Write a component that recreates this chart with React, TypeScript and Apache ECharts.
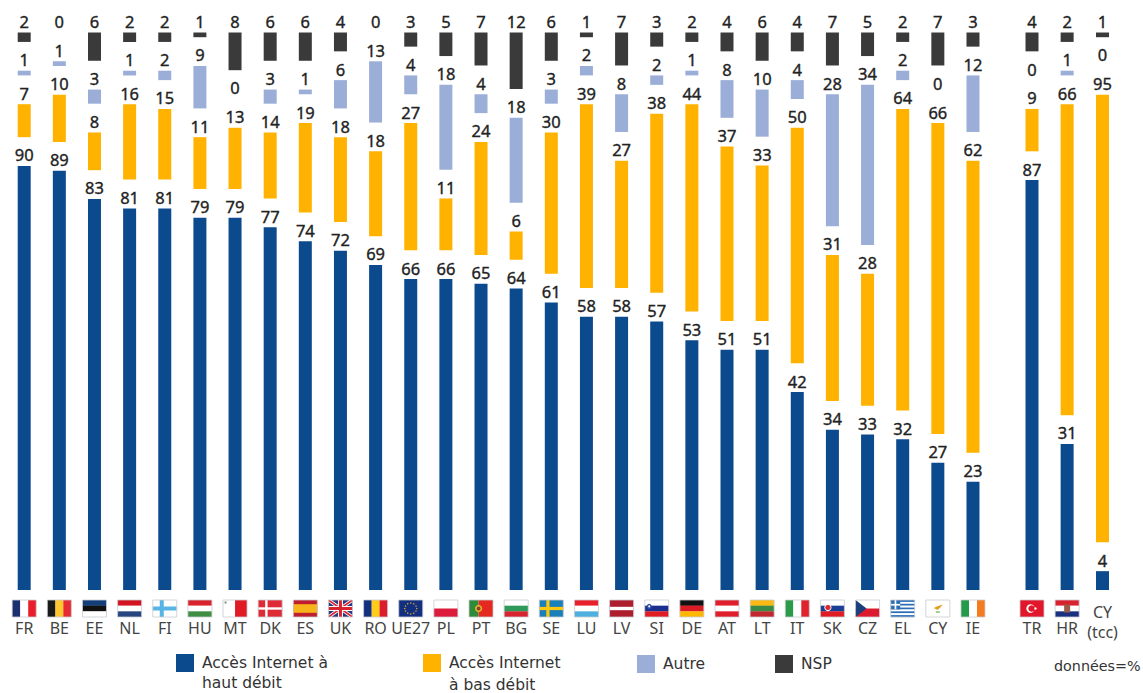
import React, { useEffect, useRef } from "react";
import * as echarts from "echarts";

const categories = ["FR","BE","EE","NL","FI","HU","MT","DK","ES","UK","RO","UE27","PL","PT","BG","SE","LU","LV","SI","DE","AT","LT","IT","SK","CZ","EL","CY","IE","TR","HR","CY\n(tcc)"];
const hautDebit = [90,89,83,81,81,79,79,77,74,72,69,66,66,65,64,61,58,58,57,53,51,51,42,34,33,32,27,23,87,31,4];
const basDebit = [7,10,8,16,15,11,13,14,19,18,18,27,11,24,6,30,39,27,38,44,37,33,50,31,28,64,66,62,9,66,95];
const autre = [1,1,3,1,2,9,0,3,1,6,13,4,18,4,18,3,2,8,2,1,8,10,4,28,34,2,0,12,0,1,0];
const nsp = [2,0,6,2,2,1,8,6,6,4,0,3,5,7,12,6,1,7,3,2,4,6,4,7,5,2,7,3,4,2,1];

const NAME_HIGH = "Accès Internet à\nhaut débit";
const NAME_LOW = "Accès Internet\nà bas débit";
const NAME_OTHER = "Autre";
const NAME_NSP = "NSP";
const COLORS = { high: "#0C4A8E", low: "#FFB200", other: "#9BAED8", nsp: "#3A3A3A" };
const FONT = "'DejaVu Sans', sans-serif";
const FONT_N = "'Noto Sans', sans-serif";

const GAP_UNITS = 6.11;
const Y_MAX = 100 + 3 * GAP_UNITS;
const STEP = 35.14;
const groups = [
  { from: 0, to: 28, centre: 24.2 },
  { from: 28, to: 30, centre: 1032 },
  { from: 30, to: 31, centre: 1102.5 },
];

const W = 24, H = 17;
type Shape = any;
const rect = (x: number, y: number, width: number, height: number, fill: string): Shape => ({ type: "rect", shape: { x, y, width, height }, style: { fill } });
const poly = (points: number[][], fill: string): Shape => ({ type: "polygon", shape: { points }, style: { fill } });
const circ = (cx: number, cy: number, r: number, fill: string): Shape => ({ type: "circle", shape: { cx, cy, r }, style: { fill } });
const hs = (...c: string[]) => c.map((f, i) => rect(0, (i * H) / c.length, W, H / c.length + (i < c.length - 1 ? 0.2 : 0), f));
const vs = (...c: string[]) => c.map((f, i) => rect((i * W) / c.length, 0, W / c.length + (i < c.length - 1 ? 0.2 : 0), H, f));
const cross = (bg: string, fg: string, t = 3) => [rect(0, 0, W, H, bg), rect(7, 0, t, H, fg), rect(0, (H - t) / 2, W, t, fg)];
const euStars = () => {
  const out: Shape[] = [rect(0, 0, W, H, "#12307F")];
  [[12,3],[15,3.8],[17.2,6],[18,8.5],[17.2,11],[15,13.2],[12,14],[9,13.2],[6.8,11],[6,8.5],[6.8,6],[9,3.8]].forEach(([x, y]) => out.push(circ(x, y, 0.7, "#E8B52A")));
  return out;
};
const greek = () => {
  const out: Shape[] = [];
  for (let i = 0; i < 9; i++) out.push(rect(0, (i * H) / 9, W, H / 9 + 0.1, i % 2 ? "#FFFFFF" : "#2A6DB5"));
  out.push(rect(0, 0, 9.5, 9.4, "#2A6DB5"), rect(3.9, 0, 1.7, 9.4, "#FFFFFF"), rect(0, 3.9, 9.5, 1.7, "#FFFFFF"));
  return out;
};
const flags: Record<string, Shape[]> = {
  FR: vs("#1B2F70", "#FFFFFF", "#E81E2B"),
  BE: vs("#1A1A1A", "#FDC82F", "#E62B33"),
  EE: hs("#123F7A", "#111111", "#FFFFFF"),
  NL: hs("#D3131F", "#FFFFFF", "#27457F"),
  FI: cross("#FFFFFF", "#58B4E4", 4),
  HU: hs("#D8232F", "#FFFFFF", "#3E8E43"),
  MT: [...vs("#FFFFFF", "#E01B24"), rect(1.5, 1.5, 2, 2, "#888888")],
  DK: cross("#DE2B36", "#FFFFFF", 2.4),
  ES: [rect(0, 0, W, H, "#BE1E2D"), rect(0, 4.2, W, 8.6, "#F8B51B")],
  UK: [rect(0, 0, W, H, "#26387E"),
    poly([[0,0],[3,0],[24,15],[24,17],[21,17],[0,2]], "#FFFFFF"), poly([[24,0],[21,0],[0,15],[0,17],[3,17],[24,2]], "#FFFFFF"),
    poly([[0,0],[1.5,0],[24,16],[24,17],[22.5,17],[0,1]], "#D8232F"), poly([[24,0],[22.5,0],[0,16],[0,17],[1.5,17],[24,1]], "#D8232F"),
    rect(9.5, 0, 5, H, "#FFFFFF"), rect(0, 6, W, 5, "#FFFFFF"), rect(10.5, 0, 3, H, "#D8232F"), rect(0, 7, W, 3, "#D8232F")],
  RO: vs("#13307F", "#FFCC1B", "#DC1C2A"),
  UE27: euStars(),
  PL: hs("#FFFFFF", "#DC1C3A"),
  PT: [rect(0, 0, 9.6, H, "#2F8A3A"), rect(9.6, 0, 14.4, H, "#E42A20"), circ(9.6, 8.5, 3.6, "#E8B52A"), circ(9.6, 8.5, 2, "#8A4030")],
  BG: hs("#FFFFFF", "#2E9A5A", "#D8232F"),
  SE: cross("#1B7FB9", "#FFC80E", 3.2),
  LU: hs("#E8202C", "#FFFFFF", "#4FB0E0"),
  LV: [rect(0, 0, W, H, "#AE1F2E"), rect(0, 6.8, W, 3.4, "#FFFFFF")],
  SI: [...hs("#FFFFFF", "#1B2F8F", "#E01B24"), circ(4.5, 6.5, 2.6, "#2C4FA0"), circ(4.5, 6.3, 1, "#FFFFFF")],
  DE: hs("#111111", "#DC1C24", "#FFB800"),
  AT: hs("#E01F2D", "#FFFFFF", "#E01F2D"),
  LT: hs("#FDB913", "#3A8A45", "#C1272D"),
  IT: vs("#2C9A48", "#FFFFFF", "#E0222C"),
  SK: [...hs("#FFFFFF", "#1B3F95", "#E01B24"), circ(7.5, 7.5, 3.6, "#FFFFFF"), circ(7.5, 7.5, 2.7, "#DB2B30")],
  CZ: [...hs("#FFFFFF", "#DC1C2E"), poly([[0,0],[11,8.5],[0,17]], "#1B3F7A")],
  EL: greek(),
  CY: [rect(0, 0, W, H, "#FFFFFF"), poly([[8,8],[11,6.5],[17,4.5],[14,8],[11.5,10]], "#E0A11E"), rect(10, 11.5, 4, 1, "#4E9A3A")],
  IE: vs("#249A4B", "#FFFFFF", "#F47B20"),
  TR: [rect(0, 0, W, H, "#E3172B"), circ(10.5, 8.5, 4.2, "#FFFFFF"), circ(11.6, 8.5, 3.3, "#E3172B"), circ(15.5, 8.5, 1.2, "#FFFFFF")],
  HR: [...hs("#D8232F", "#FFFFFF", "#1B2F7F"), rect(9, 4.5, 6, 8, "#9A5B48")],
};

const App = () => {
  const ref = useRef<HTMLDivElement>(null);
  useEffect(() => {
    const chart = echarts.init(ref.current!, undefined, { renderer: "svg" });
    const gridTop = 32.5, gridBottomY = 590;
    const grid: any[] = [], xAxis: any[] = [], yAxis: any[] = [], series: any[] = [];
    groups.forEach((g, gi) => {
      const n = g.to - g.from;
      const cats = categories.slice(g.from, g.to);
      grid.push({ left: g.centre - STEP / 2, width: STEP * n, top: gridTop, height: gridBottomY - gridTop });
      xAxis.push({
        type: "category", gridIndex: gi, data: cats,
        axisLine: { show: false }, axisTick: { show: false },
        axisLabel: { interval: 0, margin: gi === 2 ? 12 : 30, fontFamily: FONT_N, fontSize: 16, color: "#444444", lineHeight: gi === 2 ? 20 : 16 },
      });
      yAxis.push({ type: "value", gridIndex: gi, min: 0, max: Y_MAX, show: false });
      const spacer = cats.map(() => GAP_UNITS);
      const bar = (name: string, values: number[], color: string) => ({
        type: "bar", name, xAxisIndex: gi, yAxisIndex: gi, stack: "s" + gi, barWidth: 13,
        data: values.slice(g.from, g.to), itemStyle: { color },
        label: { show: true, position: "top", distance: 2.5, fontFamily: FONT_N, fontSize: 16.5, color: "#222222", textBorderColor: "#222222", textBorderWidth: 0.35 },
      });
      const gapBar = () => ({
        type: "bar", xAxisIndex: gi, yAxisIndex: gi, stack: "s" + gi, barWidth: 13, silent: true,
        data: spacer, itemStyle: { color: "transparent" }, label: { show: false },
      });
      series.push(bar(NAME_HIGH, hautDebit, COLORS.high), gapBar(), bar(NAME_LOW, basDebit, COLORS.low), gapBar(), bar(NAME_OTHER, autre, COLORS.other), gapBar(), bar(NAME_NSP, nsp, COLORS.nsp));
      if (gi < 2) {
        series.push({
          type: "custom", xAxisIndex: gi, yAxisIndex: gi, silent: true,
          data: cats.map((_, i) => [i, 0]),
          renderItem: (params: any, api: any) => {
            const p = api.coord([api.value(0), 0]);
            const code = cats[params.dataIndex];
            return {
              type: "group", x: p[0] - W / 2, y: p[1] + 10,
              children: [...(flags[code] || []), { type: "rect", shape: { x: 0, y: 0, width: W, height: H }, style: { fill: "none", stroke: "#C9CBD0", lineWidth: 0.8 } }],
            };
          },
        });
      }
    });
    const leg = (name: string, left: number, lineHeight: number, multi: boolean) => ({
      data: [name], left, top: multi ? 654 - (lineHeight * 3 - 18) / 2 : 654, orient: "horizontal", padding: 0,
      itemWidth: 18, itemHeight: 18, icon: "rect", selectedMode: false,
      formatter: multi ? (n: string) => "\n" + n : undefined,
      textStyle: { fontFamily: FONT, fontSize: 15.5, color: "#333333", lineHeight, padding: [0, 0, 0, 3] },
    });
    chart.setOption({
      animation: false,
      backgroundColor: "#FFFFFF",
      grid, xAxis, yAxis, series,
      legend: [leg(NAME_HIGH, 176, 20, true), leg(NAME_LOW, 423, 22, true), leg(NAME_OTHER, 637, 20, false), leg(NAME_NSP, 775, 20, false)],
      graphic: [{ type: "text", left: 1054, top: 659, style: { text: "données=%", font: "14.3px " + FONT, fill: "#333333" } }],
    });
    return () => chart.dispose();
  }, []);
  return <div ref={ref} style={{ position: "absolute", left: 0, top: 0, width: 1143, height: 693 }} />;
};

export default App;
